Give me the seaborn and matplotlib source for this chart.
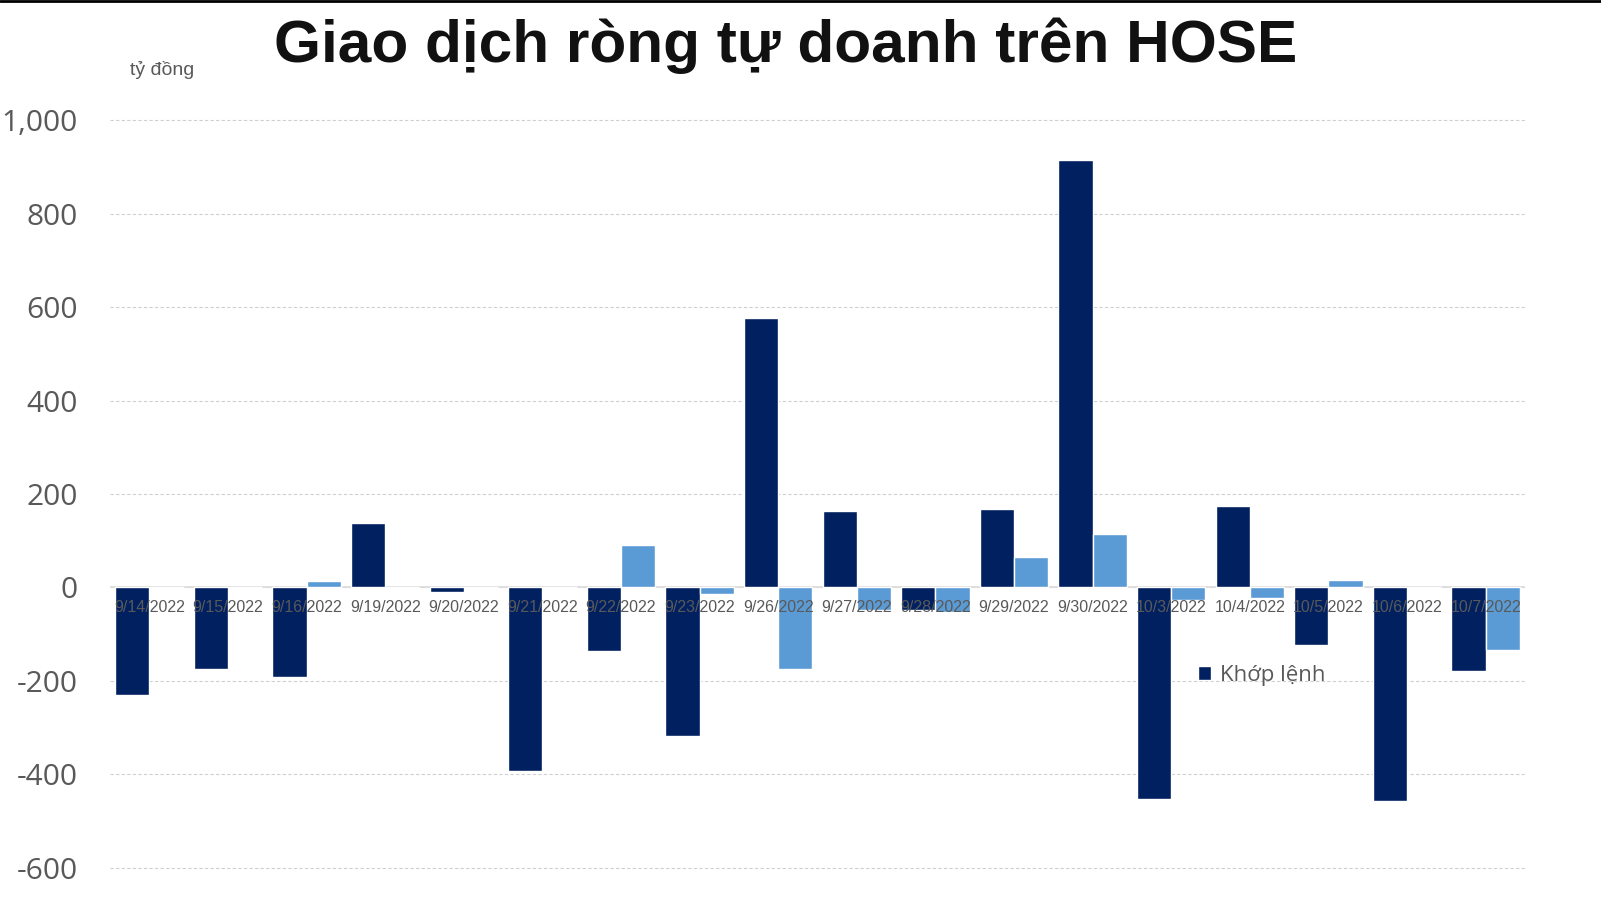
import pandas as pd
import matplotlib.pyplot as plt
import matplotlib.ticker as mticker
from matplotlib.lines import Line2D
import seaborn as sns

# Data (ty dong)
dates = ['9/14/2022', '9/15/2022', '9/16/2022', '9/19/2022', '9/20/2022', '9/21/2022',
         '9/22/2022', '9/23/2022', '9/26/2022', '9/27/2022', '9/28/2022', '9/29/2022',
         '9/30/2022', '10/3/2022', '10/4/2022', '10/5/2022', '10/6/2022', '10/7/2022']
khop_lenh = [-231, -174, -191, 137, -10, -392, -137, -318, 576, 163, -49, 167,
             915, -454, 174, -124, -458, -180]
thoa_thuan = [0, 0, 14, 0, 0, 0, 91, -14, -174, -49, -53, 65,
              115, -27, -23, 16, 0, -134]
yticks = [-600, -400, -200, 0, 200, 400, 600, 800, 1000]

df = pd.DataFrame({
    'date': dates * 2,
    'value': khop_lenh + thoa_thuan,
    'series': ['Khớp lệnh'] * len(dates) + ['Thỏa thuận'] * len(dates),
})

sns.set_style('white')
plt.rcParams['font.family'] = ['Open Sans', 'DejaVu Sans']

fig = plt.figure(figsize=(16.01, 9), dpi=100)
ax = fig.add_axes([110 / 1601, 1 - 870 / 900, 1415 / 1601, 752 / 900])

sns.barplot(data=df, x='date', y='value', hue='series', order=dates,
            palette=['#002060', '#5B9BD5'], width=0.87, saturation=1,
            errorbar=None, ax=ax, zorder=2)

# small margin so the 1,000 and -600 grid lines are not clipped
ax.set_ylim(-605, 1005)
ax.set_xlim(-0.5, len(dates) - 0.5)
ax.set_yticks(yticks)
ax.yaxis.set_major_formatter(mticker.FuncFormatter(lambda v, p: f'{v:,.0f}'))
ax.tick_params(axis='y', length=0, pad=23, labelsize=21.5, labelcolor='#595959')
ax.grid(axis='y', color='#d0d0d0', linestyle=(0, (3, 2)), linewidth=0.8)
ax.set_axisbelow(True)
for s in ax.spines.values():
    s.set_visible(False)
ax.axhline(0, color='#dcdcdc', linewidth=1.3, zorder=1)
ax.set_xlabel('')
ax.set_ylabel('')
ax.set_xticks([])

# date labels sit just below the zero line, over the bars
for i, d in enumerate(dates):
    ax.annotate(d, (i, 0), xytext=(0, -20), textcoords='offset pixels',
                ha='center', va='center', fontsize=11.5, color='#595959',
                family=['Liberation Sans Narrow', 'Liberation Sans'], zorder=5)

handles, labels = ax.get_legend_handles_labels()
ax.legend(handles[:1], labels[:1], loc='center left',
          bbox_to_anchor=(1178 / 1601, 1 - 675 / 900), bbox_transform=fig.transFigure,
          frameon=False, fontsize=16, labelcolor='#595959',
          handlelength=0.6, handleheight=0.6, handletextpad=0.4)

fig.text(786 / 1601, 1 - 46 / 900, 'Giao dịch ròng tự doanh trên HOSE',
         ha='center', va='center', fontsize=43.5, fontweight='bold', color='#111111',
         family=['Liberation Sans', 'DejaVu Sans'])
fig.text(130 / 1601, 1 - 70 / 900, 'tỷ đồng', ha='left', va='center',
         fontsize=14, color='#595959', family=['Liberation Sans', 'DejaVu Sans'])

fig.add_artist(Line2D([0, 1], [0.999, 0.999], color='black', linewidth=2,
                      transform=fig.transFigure))

fig.savefig('out.png', dpi=100)
